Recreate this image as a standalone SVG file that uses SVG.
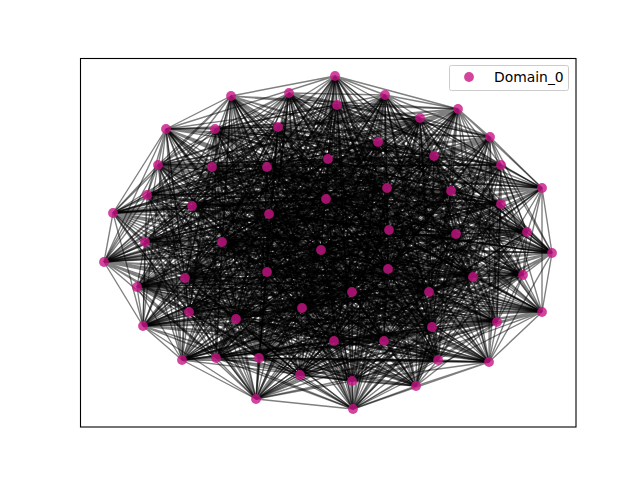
<svg xmlns="http://www.w3.org/2000/svg" width="640" height="480" viewBox="0 0 640 480">
<defs>
<style>
.e{fill:none;stroke:#000;stroke-opacity:0.5;stroke-width:1.39}
.n circle{fill:#c71585;fill-opacity:0.8}
.lg{font-family:"DejaVu Sans",sans-serif;font-size:13.9px;fill:#000}
</style>
</defs>
<rect x="0" y="0" width="640" height="480" fill="#fff"/>
<g id="edges">
<path class="e" d="M335 76L231 96M335 76L385 95M335 76L458 109M335 76L278 127M335 76L166 129M335 76L434 156M335 76L328 159M335 76L267 167M335 76L542 188M335 76L451 191M335 76L192 206M335 76L113 213M335 76L389 230M335 76L456 234M335 76L145 242"/>
<path class="e" d="M289 93L385 95M289 93L337 105M289 93L420 118M289 93L215 129M289 93L490 137M289 93L328 159M289 93L158 165M289 93L501 165M289 93L387 188M289 93L147 195M289 93L501 204M289 93L269 214M289 93L527 232M289 93L145 242M289 93L222 242"/>
<path class="e" d="M231 96L337 105M231 96L458 109M231 96L278 127M231 96L166 129M231 96L378 142M231 96L158 165M231 96L212 167M231 96L542 188M231 96L451 191M231 96L326 199M231 96L113 213M231 96L389 230M231 96L456 234M231 96L222 242M231 96L321 250"/>
<path class="e" d="M385 95L458 109M385 95L420 118M385 95L215 129M385 95L490 137M385 95L434 156M385 95L212 167M385 95L267 167M385 95L387 188M385 95L147 195M385 95L192 206M385 95L269 214M385 95L527 232M385 95L145 242M385 95L321 250M385 95L552 253"/>
<path class="e" d="M337 105L420 118M337 105L278 127M337 105L166 129M337 105L378 142M337 105L328 159M337 105L267 167M337 105L501 165M337 105L451 191M337 105L326 199M337 105L501 204M337 105L389 230M337 105L456 234M337 105L222 242M337 105L552 253M337 105L104 262"/>
<path class="e" d="M458 109L278 127M458 109L215 129M458 109L490 137M458 109L434 156M458 109L158 165M458 109L501 165M458 109L542 188M458 109L147 195M458 109L192 206M458 109L113 213M458 109L527 232M458 109L145 242M458 109L321 250M458 109L104 262M458 109L388 269"/>
<path class="e" d="M420 118L215 129M420 118L166 129M420 118L378 142M420 118L328 159M420 118L212 167M420 118L542 188M420 118L387 188M420 118L326 199M420 118L501 204M420 118L269 214M420 118L456 234M420 118L222 242M420 118L552 253M420 118L388 269M420 118L267 272"/>
<path class="e" d="M278 127L166 129M278 127L490 137M278 127L434 156M278 127L158 165M278 127L267 167M278 127L387 188M278 127L451 191M278 127L192 206M278 127L113 213M278 127L389 230M278 127L145 242M278 127L321 250M278 127L104 262M278 127L267 272M278 127L473 277"/>
<path class="e" d="M215 129L490 137M215 129L378 142M215 129L328 159M215 129L212 167M215 129L501 165M215 129L451 191M215 129L147 195M215 129L501 204M215 129L269 214M215 129L527 232M215 129L222 242M215 129L552 253M215 129L388 269M215 129L473 277M215 129L523 275"/>
<path class="e" d="M166 129L378 142M166 129L434 156M166 129L158 165M166 129L267 167M166 129L542 188M166 129L147 195M166 129L326 199M166 129L113 213M166 129L389 230M166 129L456 234M166 129L321 250M166 129L104 262M166 129L267 272M166 129L523 275M166 129L185 278"/>
<path class="e" d="M490 137L434 156M490 137L328 159M490 137L212 167M490 137L501 165M490 137L387 188M490 137L326 199M490 137L192 206M490 137L269 214M490 137L527 232M490 137L145 242M490 137L552 253M490 137L388 269M490 137L473 277M490 137L185 278M490 137L137 287M490 137L542 188"/>
<path class="e" d="M378 142L328 159M378 142L158 165M378 142L267 167M378 142L542 188M378 142L451 191M378 142L192 206M378 142L501 204M378 142L389 230M378 142L456 234M378 142L222 242M378 142L104 262M378 142L267 272M378 142L523 275M378 142L137 287M378 142L352 292"/>
<path class="e" d="M434 156L158 165M434 156L212 167M434 156L501 165M434 156L387 188M434 156L147 195M434 156L501 204M434 156L113 213M434 156L527 232M434 156L145 242M434 156L321 250M434 156L388 269M434 156L473 277M434 156L185 278M434 156L352 292M434 156L429 292"/>
<path class="e" d="M328 159L212 167M328 159L267 167M328 159L542 188M328 159L451 191M328 159L326 199M328 159L113 213M328 159L269 214M328 159L456 234M328 159L222 242M328 159L552 253M328 159L267 272M328 159L523 275M328 159L137 287M328 159L429 292M328 159L189 312"/>
<path class="e" d="M158 165L267 167M158 165L501 165M158 165L387 188M158 165L147 195M158 165L192 206M158 165L269 214M158 165L389 230M158 165L145 242M158 165L321 250M158 165L104 262M158 165L473 277M158 165L185 278M158 165L352 292M158 165L189 312M158 165L302 308"/>
<path class="e" d="M212 167L501 165M212 167L542 188M212 167L451 191M212 167L326 199M212 167L501 204M212 167L389 230M212 167L527 232M212 167L222 242M212 167L552 253M212 167L388 269M212 167L523 275M212 167L137 287M212 167L429 292M212 167L302 308M212 167L542 312"/>
<path class="e" d="M267 167L542 188M267 167L387 188M267 167L147 195M267 167L192 206M267 167L113 213M267 167L527 232M267 167L456 234M267 167L321 250M267 167L104 262M267 167L267 272M267 167L185 278M267 167L352 292M267 167L189 312M267 167L542 312M267 167L236 319"/>
<path class="e" d="M501 165L387 188M501 165L451 191M501 165L326 199M501 165L501 204M501 165L269 214M501 165L456 234M501 165L145 242M501 165L552 253M501 165L388 269M501 165L473 277M501 165L137 287M501 165L429 292M501 165L302 308M501 165L236 319M501 165L497 322"/>
<path class="e" d="M542 188L451 191M542 188L147 195M542 188L192 206M542 188L113 213M542 188L389 230M542 188L145 242M542 188L222 242M542 188L104 262M542 188L267 272M542 188L523 275M542 188L352 292M542 188L189 312M542 188L542 312M542 188L497 322M542 188L143 326M542 188L552 253"/>
<path class="e" d="M387 188L147 195M387 188L326 199M387 188L501 204M387 188L269 214M387 188L527 232M387 188L222 242M387 188L321 250M387 188L388 269M387 188L473 277M387 188L185 278M387 188L429 292M387 188L302 308M387 188L236 319M387 188L143 326M387 188L432 327"/>
<path class="e" d="M451 191L326 199M451 191L192 206M451 191L113 213M451 191L389 230M451 191L456 234M451 191L321 250M451 191L552 253M451 191L267 272M451 191L523 275M451 191L137 287M451 191L189 312M451 191L542 312M451 191L497 322M451 191L432 327M451 191L334 341"/>
<path class="e" d="M147 195L192 206M147 195L501 204M147 195L269 214M147 195L527 232M147 195L145 242M147 195L552 253M147 195L104 262M147 195L473 277M147 195L185 278M147 195L352 292M147 195L302 308M147 195L236 319M147 195L143 326M147 195L334 341M147 195L384 341"/>
<path class="e" d="M326 199L501 204M326 199L113 213M326 199L389 230M326 199L456 234M326 199L222 242M326 199L104 262M326 199L388 269M326 199L523 275M326 199L137 287M326 199L429 292M326 199L542 312M326 199L497 322M326 199L432 327M326 199L384 341M326 199L216 358"/>
<path class="e" d="M192 206L113 213M192 206L269 214M192 206L527 232M192 206L145 242M192 206L321 250M192 206L388 269M192 206L267 272M192 206L185 278M192 206L352 292M192 206L189 312M192 206L236 319M192 206L143 326M192 206L334 341M192 206L216 358M192 206L182 360"/>
<path class="e" d="M501 204L269 214M501 204L389 230M501 204L456 234M501 204L222 242M501 204L552 253M501 204L267 272M501 204L473 277M501 204L137 287M501 204L429 292M501 204L302 308M501 204L497 322M501 204L432 327M501 204L384 341M501 204L182 360M501 204L259 358"/>
<path class="e" d="M113 213L389 230M113 213L527 232M113 213L145 242M113 213L321 250M113 213L104 262M113 213L473 277M113 213L523 275M113 213L352 292M113 213L189 312M113 213L542 312M113 213L143 326M113 213L334 341M113 213L216 358M113 213L259 358M113 213L438 360"/>
<path class="e" d="M269 214L527 232M269 214L456 234M269 214L222 242M269 214L552 253M269 214L388 269M269 214L523 275M269 214L185 278M269 214L429 292M269 214L302 308M269 214L236 319M269 214L432 327M269 214L384 341M269 214L182 360M269 214L438 360M269 214L489 362"/>
<path class="e" d="M389 230L456 234M389 230L145 242M389 230L321 250M389 230L104 262M389 230L267 272M389 230L185 278M389 230L137 287M389 230L189 312M389 230L542 312M389 230L497 322M389 230L334 341M389 230L216 358M389 230L259 358M389 230L489 362M389 230L300 375"/>
<path class="e" d="M527 232L145 242M527 232L222 242M527 232L552 253M527 232L388 269M527 232L473 277M527 232L137 287M527 232L352 292M527 232L302 308M527 232L236 319M527 232L143 326M527 232L384 341M527 232L182 360M527 232L438 360M527 232L300 375M527 232L352 381"/>
<path class="e" d="M456 234L222 242M456 234L321 250M456 234L104 262M456 234L267 272M456 234L523 275M456 234L352 292M456 234L429 292M456 234L542 312M456 234L497 322M456 234L432 327M456 234L216 358M456 234L259 358M456 234L489 362M456 234L352 381M456 234L416 386"/>
<path class="e" d="M145 242L321 250M145 242L552 253M145 242L388 269M145 242L473 277M145 242L185 278M145 242L429 292M145 242L189 312M145 242L236 319M145 242L143 326M145 242L334 341M145 242L182 360M145 242L438 360M145 242L300 375M145 242L416 386M145 242L256 399"/>
<path class="e" d="M222 242L552 253M222 242L104 262M222 242L267 272M222 242L523 275M222 242L137 287M222 242L189 312M222 242L302 308M222 242L497 322M222 242L432 327M222 242L384 341M222 242L259 358M222 242L489 362M222 242L352 381M222 242L256 399M222 242L353 409"/>
<path class="e" d="M321 250L104 262M321 250L388 269M321 250L473 277M321 250L185 278M321 250L352 292M321 250L302 308M321 250L542 312M321 250L143 326M321 250L334 341M321 250L216 358M321 250L438 360M321 250L300 375M321 250L416 386M321 250L353 409M321 250L335 76"/>
<path class="e" d="M552 253L388 269M552 253L267 272M552 253L523 275M552 253L137 287M552 253L429 292M552 253L542 312M552 253L236 319M552 253L432 327M552 253L384 341M552 253L182 360M552 253L489 362M552 253L352 381M552 253L256 399M552 253L335 76M552 253L289 93"/>
<path class="e" d="M104 262L267 272M104 262L473 277M104 262L185 278M104 262L352 292M104 262L189 312M104 262L236 319M104 262L497 322M104 262L334 341M104 262L216 358M104 262L259 358M104 262L300 375M104 262L416 386M104 262L353 409M104 262L289 93M104 262L231 96M104 262L143 326"/>
<path class="e" d="M388 269L473 277M388 269L523 275M388 269L137 287M388 269L429 292M388 269L302 308M388 269L497 322M388 269L143 326M388 269L384 341M388 269L182 360M388 269L438 360M388 269L352 381M388 269L256 399M388 269L335 76M388 269L231 96M388 269L385 95"/>
<path class="e" d="M267 272L523 275M267 272L185 278M267 272L352 292M267 272L189 312M267 272L542 312M267 272L143 326M267 272L432 327M267 272L216 358M267 272L259 358M267 272L489 362M267 272L416 386M267 272L353 409M267 272L289 93M267 272L385 95M267 272L337 105"/>
<path class="e" d="M473 277L185 278M473 277L137 287M473 277L429 292M473 277L302 308M473 277L236 319M473 277L432 327M473 277L334 341M473 277L182 360M473 277L438 360M473 277L300 375M473 277L256 399M473 277L335 76M473 277L231 96M473 277L337 105M473 277L458 109"/>
<path class="e" d="M523 275L137 287M523 275L352 292M523 275L189 312M523 275L542 312M523 275L497 322M523 275L334 341M523 275L384 341M523 275L259 358M523 275L489 362M523 275L352 381M523 275L353 409M523 275L289 93M523 275L385 95M523 275L458 109M523 275L420 118"/>
<path class="e" d="M185 278L352 292M185 278L429 292M185 278L302 308M185 278L236 319M185 278L143 326M185 278L384 341M185 278L216 358M185 278L438 360M185 278L300 375M185 278L416 386M185 278L335 76M185 278L231 96M185 278L337 105M185 278L420 118M185 278L278 127"/>
<path class="e" d="M137 287L429 292M137 287L189 312M137 287L542 312M137 287L497 322M137 287L432 327M137 287L216 358M137 287L182 360M137 287L489 362M137 287L352 381M137 287L256 399M137 287L289 93M137 287L385 95M137 287L458 109M137 287L278 127M137 287L215 129"/>
<path class="e" d="M352 292L189 312M352 292L302 308M352 292L236 319M352 292L143 326M352 292L334 341M352 292L182 360M352 292L259 358M352 292L300 375M352 292L416 386M352 292L353 409M352 292L231 96M352 292L337 105M352 292L420 118M352 292L215 129M352 292L166 129"/>
<path class="e" d="M429 292L302 308M429 292L542 312M429 292L497 322M429 292L432 327M429 292L384 341M429 292L259 358M429 292L438 360M429 292L352 381M429 292L256 399M429 292L335 76M429 292L385 95M429 292L458 109M429 292L278 127M429 292L166 129M429 292L490 137"/>
<path class="e" d="M189 312L542 312M189 312L236 319M189 312L143 326M189 312L334 341M189 312L216 358M189 312L438 360M189 312L489 362M189 312L416 386M189 312L353 409M189 312L289 93M189 312L337 105M189 312L420 118M189 312L215 129M189 312L490 137M189 312L378 142"/>
<path class="e" d="M302 308L236 319M302 308L497 322M302 308L432 327M302 308L384 341M302 308L182 360M302 308L489 362M302 308L300 375M302 308L256 399M302 308L335 76M302 308L231 96M302 308L458 109M302 308L278 127M302 308L166 129M302 308L378 142M302 308L434 156"/>
<path class="e" d="M542 312L497 322M542 312L143 326M542 312L334 341M542 312L216 358M542 312L259 358M542 312L300 375M542 312L352 381M542 312L353 409M542 312L289 93M542 312L385 95M542 312L420 118M542 312L215 129M542 312L490 137M542 312L434 156M542 312L328 159M542 312L489 362"/>
<path class="e" d="M236 319L143 326M236 319L432 327M236 319L384 341M236 319L182 360M236 319L438 360M236 319L352 381M236 319L416 386M236 319L335 76M236 319L231 96M236 319L337 105M236 319L278 127M236 319L166 129M236 319L378 142M236 319L328 159M236 319L158 165"/>
<path class="e" d="M497 322L432 327M497 322L334 341M497 322L216 358M497 322L259 358M497 322L489 362M497 322L416 386M497 322L256 399M497 322L289 93M497 322L385 95M497 322L458 109M497 322L215 129M497 322L490 137M497 322L434 156M497 322L158 165M497 322L212 167"/>
<path class="e" d="M143 326L334 341M143 326L384 341M143 326L182 360M143 326L438 360M143 326L300 375M143 326L256 399M143 326L353 409M143 326L231 96M143 326L337 105M143 326L420 118M143 326L166 129M143 326L378 142M143 326L328 159M143 326L212 167M143 326L267 167"/>
<path class="e" d="M432 327L384 341M432 327L216 358M432 327L259 358M432 327L489 362M432 327L352 381M432 327L353 409M432 327L335 76M432 327L385 95M432 327L458 109M432 327L278 127M432 327L490 137M432 327L434 156M432 327L158 165M432 327L267 167M432 327L501 165"/>
<path class="e" d="M334 341L216 358M334 341L182 360M334 341L438 360M334 341L300 375M334 341L416 386M334 341L335 76M334 341L289 93M334 341L337 105M334 341L420 118M334 341L215 129M334 341L378 142M334 341L328 159M334 341L212 167M334 341L501 165M334 341L542 188"/>
<path class="e" d="M384 341L182 360M384 341L259 358M384 341L489 362M384 341L352 381M384 341L256 399M384 341L289 93M384 341L231 96M384 341L458 109M384 341L278 127M384 341L166 129M384 341L434 156M384 341L158 165M384 341L267 167M384 341L542 188M384 341L387 188"/>
<path class="e" d="M216 358L259 358M216 358L438 360M216 358L300 375M216 358L416 386M216 358L353 409M216 358L231 96M216 358L385 95M216 358L420 118M216 358L215 129M216 358L490 137M216 358L328 159M216 358L212 167M216 358L501 165M216 358L387 188M216 358L451 191"/>
<path class="e" d="M182 360L438 360M182 360L489 362M182 360L352 381M182 360L256 399M182 360L335 76M182 360L385 95M182 360L337 105M182 360L278 127M182 360L166 129M182 360L378 142M182 360L158 165M182 360L267 167M182 360L542 188M182 360L451 191M182 360L147 195"/>
<path class="e" d="M259 358L489 362M259 358L300 375M259 358L416 386M259 358L353 409M259 358L289 93M259 358L337 105M259 358L458 109M259 358L215 129M259 358L490 137M259 358L434 156M259 358L212 167M259 358L501 165M259 358L387 188M259 358L147 195M259 358L326 199"/>
<path class="e" d="M438 360L300 375M438 360L352 381M438 360L256 399M438 360L335 76M438 360L231 96M438 360L458 109M438 360L420 118M438 360L166 129M438 360L378 142M438 360L328 159M438 360L267 167M438 360L542 188M438 360L451 191M438 360L326 199M438 360L192 206"/>
<path class="e" d="M489 362L352 381M489 362L416 386M489 362L353 409M489 362L289 93M489 362L385 95M489 362L420 118M489 362L278 127M489 362L490 137M489 362L434 156M489 362L158 165M489 362L501 165M489 362L387 188M489 362L147 195M489 362L192 206M489 362L501 204"/>
<path class="e" d="M300 375L416 386M300 375L256 399M300 375L335 76M300 375L231 96M300 375L337 105M300 375L278 127M300 375L215 129M300 375L378 142M300 375L328 159M300 375L212 167M300 375L542 188M300 375L451 191M300 375L326 199M300 375L501 204M300 375L113 213"/>
<path class="e" d="M352 381L256 399M352 381L353 409M352 381L289 93M352 381L385 95M352 381L458 109M352 381L215 129M352 381L166 129M352 381L434 156M352 381L158 165M352 381L267 167M352 381L387 188M352 381L147 195M352 381L192 206M352 381L113 213M352 381L269 214"/>
<path class="e" d="M416 386L353 409M416 386L335 76M416 386L231 96M416 386L337 105M416 386L420 118M416 386L166 129M416 386L490 137M416 386L328 159M416 386L212 167M416 386L501 165M416 386L451 191M416 386L326 199M416 386L501 204M416 386L269 214M416 386L389 230"/>
<path class="e" d="M256 399L335 76M256 399L289 93M256 399L385 95M256 399L458 109M256 399L278 127M256 399L490 137M256 399L378 142M256 399L158 165M256 399L267 167M256 399L542 188M256 399L147 195M256 399L192 206M256 399L113 213M256 399L389 230M256 399L527 232M256 399L353 409"/>
<path class="e" d="M353 409L289 93M353 409L231 96M353 409L337 105M353 409L420 118M353 409L215 129M353 409L378 142M353 409L434 156M353 409L212 167M353 409L501 165M353 409L387 188M353 409L326 199M353 409L501 204M353 409L269 214M353 409L527 232M353 409L456 234"/>
<path class="e" d="M337 105L458 109M337 105L215 129M337 105L490 137M337 105L434 156M337 105L158 165M337 105L212 167M337 105L542 188M337 105L387 188"/>
<path class="e" d="M420 118L278 127M420 118L490 137M420 118L434 156M420 118L158 165M420 118L267 167M420 118L501 165M420 118L451 191M420 118L147 195"/>
<path class="e" d="M215 129L166 129M215 129L434 156M215 129L158 165M215 129L267 167M215 129L542 188M215 129L387 188M215 129L326 199M215 129L192 206"/>
<path class="e" d="M158 165L212 167M158 165L542 188M158 165L451 191M158 165L326 199M158 165L501 204M158 165L113 213M158 165L527 232M158 165L456 234"/>
<path class="e" d="M501 165L542 188M501 165L147 195M501 165L192 206M501 165L113 213M501 165L389 230M501 165L527 232M501 165L222 242M501 165L321 250"/>
<path class="e" d="M147 195L326 199M147 195L113 213M147 195L389 230M147 195L456 234M147 195L222 242M147 195L321 250M147 195L388 269M147 195L267 272"/>
<path class="e" d="M501 204L113 213M501 204L527 232M501 204L145 242M501 204L321 250M501 204L104 262M501 204L388 269M501 204L523 275M501 204L185 278"/>
<path class="e" d="M527 232L456 234M527 232L321 250M527 232L104 262M527 232L267 272M527 232L523 275M527 232L185 278M527 232L429 292M527 232L189 312"/>
<path class="e" d="M145 242L222 242M145 242L104 262M145 242L267 272M145 242L523 275M145 242L137 287M145 242L352 292M145 242L302 308M145 242L542 312"/>
<path class="e" d="M523 275L185 278M523 275L429 292M523 275L302 308M523 275L236 319M523 275L143 326M523 275L432 327M523 275L216 358M523 275L182 360"/>
<path class="e" d="M137 287L352 292M137 287L302 308M137 287L236 319M137 287L143 326M137 287L334 341M137 287L384 341M137 287L259 358M137 287L438 360"/>
<path class="e" d="M497 322L143 326M497 322L384 341M497 322L182 360M497 322L438 360M497 322L300 375M497 322L352 381M497 322L353 409M497 322L335 76"/>
<path class="e" d="M216 358L182 360M216 358L489 362M216 358L352 381M216 358L256 399M216 358L335 76M216 358L289 93M216 358L337 105M216 358L458 109"/>
<path class="e" d="M438 360L489 362M438 360L416 386M438 360L353 409M438 360L289 93M438 360L385 95M438 360L337 105M438 360L278 127M438 360L215 129"/>
<path class="e" d="M300 375L352 381M300 375L353 409M300 375L289 93M300 375L385 95M300 375L458 109M300 375L420 118M300 375L166 129M300 375L490 137"/>
<path class="e" d="M352 381L416 386M352 381L335 76M352 381L231 96M352 381L337 105M352 381L420 118M352 381L278 127M352 381L490 137M352 381L378 142"/>
<path class="e" d="M278 127L215 129M278 127L378 142M278 127L328 159M278 127L212 167M278 127L501 165M278 127L542 188M278 127L147 195M278 127L326 199M278 127L501 204M278 127L269 214M278 127L527 232M278 127L456 234M278 127L222 242M278 127L552 253M278 127L388 269"/>
<path class="e" d="M378 142L434 156M378 142L212 167M378 142L501 165M378 142L387 188M378 142L147 195M378 142L326 199M378 142L113 213M378 142L269 214M378 142L527 232M378 142L145 242M378 142L321 250M378 142L552 253M378 142L388 269M378 142L473 277M378 142L185 278"/>
<path class="e" d="M434 156L328 159M434 156L267 167M434 156L542 188M434 156L451 191M434 156L326 199M434 156L192 206M434 156L269 214M434 156L389 230M434 156L456 234M434 156L222 242M434 156L552 253M434 156L104 262M434 156L267 272M434 156L523 275M434 156L137 287"/>
<path class="e" d="M328 159L158 165M328 159L501 165M328 159L387 188M328 159L147 195M328 159L192 206M328 159L501 204M328 159L389 230M328 159L527 232M328 159L145 242M328 159L321 250M328 159L104 262M328 159L388 269M328 159L473 277M328 159L185 278M328 159L352 292"/>
<path class="e" d="M212 167L267 167M212 167L387 188M212 167L147 195M212 167L192 206M212 167L113 213M212 167L269 214M212 167L456 234M212 167L145 242M212 167L321 250M212 167L104 262M212 167L267 272M212 167L473 277M212 167L185 278M212 167L352 292M212 167L189 312"/>
<path class="e" d="M267 167L501 165M267 167L451 191M267 167L326 199M267 167L501 204M267 167L269 214M267 167L389 230M267 167L145 242M267 167L222 242M267 167L552 253M267 167L388 269M267 167L473 277M267 167L523 275M267 167L137 287M267 167L429 292M267 167L302 308"/>
<path class="e" d="M387 188L451 191M387 188L192 206M387 188L113 213M387 188L389 230M387 188L456 234M387 188L145 242M387 188L552 253M387 188L104 262M387 188L267 272M387 188L523 275M387 188L137 287M387 188L352 292M387 188L189 312M387 188L542 312M387 188L497 322"/>
<path class="e" d="M451 191L147 195M451 191L501 204M451 191L269 214M451 191L527 232M451 191L145 242M451 191L222 242M451 191L104 262M451 191L388 269M451 191L473 277M451 191L185 278M451 191L352 292M451 191L429 292M451 191L302 308M451 191L236 319M451 191L143 326"/>
<path class="e" d="M326 199L192 206M326 199L269 214M326 199L527 232M326 199L145 242M326 199L321 250M326 199L552 253M326 199L267 272M326 199L473 277M326 199L185 278M326 199L352 292M326 199L189 312M326 199L302 308M326 199L236 319M326 199L143 326M326 199L334 341"/>
<path class="e" d="M192 206L501 204M192 206L389 230M192 206L456 234M192 206L222 242M192 206L552 253M192 206L104 262M192 206L473 277M192 206L523 275M192 206L137 287M192 206L429 292M192 206L302 308M192 206L542 312M192 206L497 322M192 206L432 327M192 206L384 341"/>
<path class="e" d="M269 214L389 230M269 214L145 242M269 214L321 250M269 214L104 262M269 214L267 272M269 214L473 277M269 214L137 287M269 214L352 292M269 214L189 312M269 214L542 312M269 214L497 322M269 214L143 326M269 214L334 341M269 214L216 358M269 214L259 358"/>
<path class="e" d="M389 230L527 232M389 230L222 242M389 230L552 253M389 230L388 269M389 230L473 277M389 230L523 275M389 230L352 292M389 230L429 292M389 230L302 308M389 230L236 319M389 230L143 326M389 230L432 327M389 230L384 341M389 230L182 360M389 230L438 360"/>
<path class="e" d="M456 234L145 242M456 234L552 253M456 234L388 269M456 234L473 277M456 234L185 278M456 234L137 287M456 234L189 312M456 234L302 308M456 234L236 319M456 234L143 326M456 234L334 341M456 234L384 341M456 234L182 360M456 234L438 360M456 234L300 375"/>
<path class="e" d="M222 242L321 250M222 242L388 269M222 242L473 277M222 242L185 278M222 242L352 292M222 242L429 292M222 242L542 312M222 242L236 319M222 242L143 326M222 242L334 341M222 242L216 358M222 242L182 360M222 242L438 360M222 242L300 375M222 242L416 386"/>
<path class="e" d="M321 250L552 253M321 250L267 272M321 250L523 275M321 250L137 287M321 250L429 292M321 250L189 312M321 250L236 319M321 250L497 322M321 250L432 327M321 250L384 341M321 250L182 360M321 250L259 358M321 250L489 362M321 250L352 381M321 250L256 399"/>
<path class="e" d="M388 269L267 272M388 269L185 278M388 269L352 292M388 269L189 312M388 269L542 312M388 269L236 319M388 269L432 327M388 269L334 341M388 269L216 358M388 269L259 358M388 269L489 362M388 269L300 375M388 269L416 386M388 269L353 409M388 269L289 93"/>
<path class="e" d="M267 272L473 277M267 272L137 287M267 272L429 292M267 272L302 308M267 272L236 319M267 272L497 322M267 272L334 341M267 272L384 341M267 272L182 360M267 272L438 360M267 272L300 375M267 272L352 381M267 272L256 399M267 272L335 76M267 272L231 96"/>
<path class="e" d="M473 277L523 275M473 277L352 292M473 277L189 312M473 277L542 312M473 277L497 322M473 277L143 326M473 277L384 341M473 277L216 358M473 277L259 358M473 277L489 362M473 277L352 381M473 277L416 386M473 277L353 409M473 277L289 93M473 277L385 95"/>
<path class="e" d="M185 278L137 287M185 278L189 312M185 278L542 312M185 278L497 322M185 278L432 327M185 278L334 341M185 278L182 360M185 278L259 358M185 278L489 362M185 278L352 381M185 278L256 399M185 278L353 409M185 278L289 93M185 278L385 95M185 278L458 109"/>
<path class="e" d="M352 292L429 292M352 292L542 312M352 292L497 322M352 292L432 327M352 292L384 341M352 292L216 358M352 292L438 360M352 292L489 362M352 292L352 381M352 292L256 399M352 292L335 76M352 292L289 93M352 292L385 95M352 292L458 109M352 292L278 127"/>
<path class="e" d="M429 292L189 312M429 292L236 319M429 292L143 326M429 292L334 341M429 292L216 358M429 292L182 360M429 292L489 362M429 292L300 375M429 292L416 386M429 292L353 409M429 292L289 93M429 292L231 96M429 292L337 105M429 292L420 118M429 292L215 129"/>
<path class="e" d="M189 312L302 308M189 312L497 322M189 312L432 327M189 312L384 341M189 312L182 360M189 312L259 358M189 312L300 375M189 312L352 381M189 312L256 399M189 312L335 76M189 312L231 96M189 312L385 95M189 312L458 109M189 312L278 127M189 312L166 129"/>
<path class="e" d="M302 308L542 312M302 308L143 326M302 308L334 341M302 308L216 358M302 308L259 358M302 308L438 360M302 308L352 381M302 308L416 386M302 308L353 409M302 308L289 93M302 308L385 95M302 308L337 105M302 308L420 118M302 308L215 129M302 308L490 137"/>
<path class="e" d="M236 319L497 322M236 319L334 341M236 319L216 358M236 319L259 358M236 319L489 362M236 319L300 375M236 319L256 399M236 319L353 409M236 319L289 93M236 319L385 95M236 319L458 109M236 319L420 118M236 319L215 129M236 319L490 137M236 319L434 156"/>
<path class="e" d="M432 327L334 341M432 327L182 360M432 327L438 360M432 327L300 375M432 327L416 386M432 327L256 399M432 327L289 93M432 327L231 96M432 327L337 105M432 327L420 118M432 327L215 129M432 327L166 129M432 327L378 142M432 327L328 159M432 327L212 167"/>
<path class="e" d="M334 341L384 341M334 341L259 358M334 341L489 362M334 341L352 381M334 341L256 399M334 341L353 409M334 341L231 96M334 341L385 95M334 341L458 109M334 341L278 127M334 341L166 129M334 341L490 137M334 341L434 156M334 341L158 165M334 341L267 167"/>
<path class="e" d="M384 341L216 358M384 341L438 360M384 341L300 375M384 341L416 386M384 341L353 409M384 341L335 76M384 341L385 95M384 341L337 105M384 341L420 118M384 341L215 129M384 341L490 137M384 341L378 142M384 341L328 159M384 341L212 167M384 341L501 165"/>
<path class="e" d="M259 358L438 360M259 358L352 381M259 358L256 399M259 358L335 76M259 358L231 96M259 358L385 95M259 358L420 118M259 358L278 127M259 358L166 129M259 358L378 142M259 358L328 159M259 358L158 165M259 358L267 167M259 358L542 188M259 358L451 191"/>
</g>
<g id="nodes" class="n">
<g id="n0"><circle cx="335" cy="76" r="4.9"/></g>
<g id="n1"><circle cx="289" cy="93" r="4.9"/></g>
<g id="n2"><circle cx="231" cy="96" r="4.9"/></g>
<g id="n3"><circle cx="385" cy="95" r="4.9"/></g>
<g id="n4"><circle cx="337" cy="105" r="4.9"/></g>
<g id="n5"><circle cx="458" cy="109" r="4.9"/></g>
<g id="n6"><circle cx="420" cy="118" r="4.9"/></g>
<g id="n7"><circle cx="278" cy="127" r="4.9"/></g>
<g id="n8"><circle cx="215" cy="129" r="4.9"/></g>
<g id="n9"><circle cx="166" cy="129" r="4.9"/></g>
<g id="n10"><circle cx="490" cy="137" r="4.9"/></g>
<g id="n11"><circle cx="378" cy="142" r="4.9"/></g>
<g id="n12"><circle cx="434" cy="156" r="4.9"/></g>
<g id="n13"><circle cx="328" cy="159" r="4.9"/></g>
<g id="n14"><circle cx="158" cy="165" r="4.9"/></g>
<g id="n15"><circle cx="212" cy="167" r="4.9"/></g>
<g id="n16"><circle cx="267" cy="167" r="4.9"/></g>
<g id="n17"><circle cx="501" cy="165" r="4.9"/></g>
<g id="n18"><circle cx="542" cy="188" r="4.9"/></g>
<g id="n19"><circle cx="387" cy="188" r="4.9"/></g>
<g id="n20"><circle cx="451" cy="191" r="4.9"/></g>
<g id="n21"><circle cx="147" cy="195" r="4.9"/></g>
<g id="n22"><circle cx="326" cy="199" r="4.9"/></g>
<g id="n23"><circle cx="192" cy="206" r="4.9"/></g>
<g id="n24"><circle cx="501" cy="204" r="4.9"/></g>
<g id="n25"><circle cx="113" cy="213" r="4.9"/></g>
<g id="n26"><circle cx="269" cy="214" r="4.9"/></g>
<g id="n27"><circle cx="389" cy="230" r="4.9"/></g>
<g id="n28"><circle cx="527" cy="232" r="4.9"/></g>
<g id="n29"><circle cx="456" cy="234" r="4.9"/></g>
<g id="n30"><circle cx="145" cy="242" r="4.9"/></g>
<g id="n31"><circle cx="222" cy="242" r="4.9"/></g>
<g id="n32"><circle cx="321" cy="250" r="4.9"/></g>
<g id="n33"><circle cx="552" cy="253" r="4.9"/></g>
<g id="n34"><circle cx="104" cy="262" r="4.9"/></g>
<g id="n35"><circle cx="388" cy="269" r="4.9"/></g>
<g id="n36"><circle cx="267" cy="272" r="4.9"/></g>
<g id="n37"><circle cx="473" cy="277" r="4.9"/></g>
<g id="n38"><circle cx="523" cy="275" r="4.9"/></g>
<g id="n39"><circle cx="185" cy="278" r="4.9"/></g>
<g id="n40"><circle cx="137" cy="287" r="4.9"/></g>
<g id="n41"><circle cx="352" cy="292" r="4.9"/></g>
<g id="n42"><circle cx="429" cy="292" r="4.9"/></g>
<g id="n43"><circle cx="189" cy="312" r="4.9"/></g>
<g id="n44"><circle cx="302" cy="308" r="4.9"/></g>
<g id="n45"><circle cx="542" cy="312" r="4.9"/></g>
<g id="n46"><circle cx="236" cy="319" r="4.9"/></g>
<g id="n47"><circle cx="497" cy="322" r="4.9"/></g>
<g id="n48"><circle cx="143" cy="326" r="4.9"/></g>
<g id="n49"><circle cx="432" cy="327" r="4.9"/></g>
<g id="n50"><circle cx="334" cy="341" r="4.9"/></g>
<g id="n51"><circle cx="384" cy="341" r="4.9"/></g>
<g id="n52"><circle cx="216" cy="358" r="4.9"/></g>
<g id="n53"><circle cx="182" cy="360" r="4.9"/></g>
<g id="n54"><circle cx="259" cy="358" r="4.9"/></g>
<g id="n55"><circle cx="438" cy="360" r="4.9"/></g>
<g id="n56"><circle cx="489" cy="362" r="4.9"/></g>
<g id="n57"><circle cx="300" cy="375" r="4.9"/></g>
<g id="n58"><circle cx="352" cy="381" r="4.9"/></g>
<g id="n59"><circle cx="416" cy="386" r="4.9"/></g>
<g id="n60"><circle cx="256" cy="399" r="4.9"/></g>
<g id="n61"><circle cx="353" cy="409" r="4.9"/></g>
</g>
<rect x="80.5" y="58.5" width="495.5" height="368.5" fill="none" stroke="#000" stroke-width="1.1"/>
<g id="legend">
<rect x="449.5" y="65.5" width="119" height="25" rx="2" fill="#fff" fill-opacity="0.8" stroke="#ccc" stroke-width="1"/>
<circle cx="469" cy="77" r="4.9" fill="#c71585" fill-opacity="0.8"/>
<text class="lg" x="494" y="82">Domain_0</text>
</g>
</svg>
